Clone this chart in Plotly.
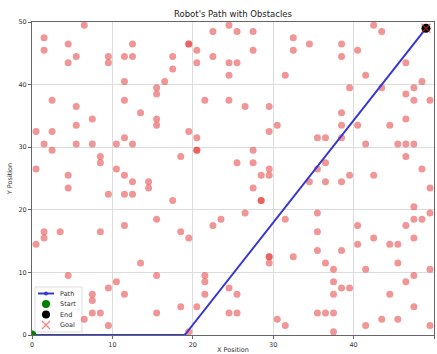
import plotly.graph_objects as go

# Obstacles (cell centres), listed row by row from top to bottom
obstacle_x = [
    6.5, 24.5, 42.5,
    22.5, 25.5, 27.5, 43.5,
    1.5, 32.5,
    4.5, 12.5, 19.5, 19.5, 34.5, 38.5,
    1.5, 20.5, 27.5, 32.5, 40.5,
    5.5, 9.5, 11.5, 12.5, 17.5, 22.5, 38.5,
    4.5, 9.5, 20.5, 24.5, 25.5, 46.5,
    17.5,
    24.5, 31.5, 41.5,
    11.5, 16.5, 48.5,
    15.5, 39.5, 43.5, 47.5,
    15.5, 46.5,
    2.5, 11.5, 21.5, 24.5, 47.5, 49.5,
    5.5, 26.5, 29.5,
    13.5, 38.5,
    7.5, 15.5, 46.5,
    5.5, 15.5, 30.5, 38.5, 40.5, 44.5,
    0.5, 2.5, 19.5, 29.5,
    11.5, 20.5, 35.5, 36.5, 38.5,
    1.5, 5.5, 7.5, 10.5, 12.5, 41.5, 45.5, 46.5, 47.5,
    2.5, 20.5, 20.5, 27.5,
    8.5, 18.5, 46.5,
    8.5, 25.5, 27.5, 36.5,
    0.5, 10.5, 29.5, 35.5, 48.5,
    4.5, 11.5, 28.5, 29.5, 39.5, 42.5,
    12.5, 14.5, 34.5, 36.5, 38.5,
    4.5, 14.5, 27.5, 49.5,
    9.5, 11.5, 12.5,
    17.5, 28.5, 28.5,
    47.5,
    26.5, 35.5, 49.5,
    15.5, 23.5, 31.5, 47.5, 48.5,
    11.5, 22.5, 40.5, 46.5,
    1.5, 3.5, 8.5, 18.5, 35.5,
    1.5, 19.5, 42.5, 47.5,
    0.5, 40.5, 44.5, 45.5,
    35.5, 38.5,
    29.5, 29.5, 32.5,
    13.5, 29.5, 36.5, 45.5,
    37.5, 41.5, 49.5,
    4.5, 15.5, 21.5, 47.5,
    10.5, 21.5, 37.5, 46.5,
    9.5, 24.5, 38.5, 39.5,
    7.5, 11.5, 21.5, 25.5, 37.5, 44.5,
    7.5,
    18.5, 20.5, 47.5,
    7.5, 8.5, 15.5, 24.5, 25.5, 35.5, 36.5, 37.5,
    6.5, 30.5, 43.5, 45.5,
    9.5, 31.5, 41.5, 49.5,
    19.5, 37.5,
]
obstacle_y = [
    49.5, 49.5, 49.5,
    48.5, 48.5, 48.5, 48.5,
    47.5, 47.5,
    46.5, 46.5, 46.5, 46.5, 46.5, 46.5,
    45.5, 45.5, 45.5, 45.5, 45.5,
    44.5, 44.5, 44.5, 44.5, 44.5, 44.5, 44.5,
    43.5, 43.5, 43.5, 43.5, 43.5, 43.5,
    42.5,
    41.5, 41.5, 41.5,
    40.5, 40.5, 40.5,
    39.5, 39.5, 39.5, 39.5,
    38.5, 38.5,
    37.5, 37.5, 37.5, 37.5, 37.5, 37.5,
    36.5, 36.5, 36.5,
    35.5, 35.5,
    34.5, 34.5, 34.5,
    33.5, 33.5, 33.5, 33.5, 33.5, 33.5,
    32.5, 32.5, 32.5, 32.5,
    31.5, 31.5, 31.5, 31.5, 31.5,
    30.5, 30.5, 30.5, 30.5, 30.5, 30.5, 30.5, 30.5, 30.5,
    29.5, 29.5, 29.5, 29.5,
    28.5, 28.5, 28.5,
    27.5, 27.5, 27.5, 27.5,
    26.5, 26.5, 26.5, 26.5, 26.5,
    25.5, 25.5, 25.5, 25.5, 25.5, 25.5,
    24.5, 24.5, 24.5, 24.5, 24.5,
    23.5, 23.5, 23.5, 23.5,
    22.5, 22.5, 22.5,
    21.5, 21.5, 21.5,
    20.5,
    19.5, 19.5, 19.5,
    18.5, 18.5, 18.5, 18.5, 18.5,
    17.5, 17.5, 17.5, 17.5,
    16.5, 16.5, 16.5, 16.5, 16.5,
    15.5, 15.5, 15.5, 15.5,
    14.5, 14.5, 14.5, 14.5,
    13.5, 13.5,
    12.5, 12.5, 12.5,
    11.5, 11.5, 11.5, 11.5,
    10.5, 10.5, 10.5,
    9.5, 9.5, 9.5, 9.5,
    8.5, 8.5, 8.5, 8.5,
    7.5, 7.5, 7.5, 7.5,
    6.5, 6.5, 6.5, 6.5, 6.5, 6.5,
    5.5,
    4.5, 4.5, 4.5,
    3.5, 3.5, 3.5, 3.5, 3.5, 3.5, 3.5, 3.5,
    2.5, 2.5, 2.5, 2.5,
    1.5, 1.5, 1.5, 1.5,
    0.5, 0.5,
]

# Path waypoints
path_x = [0, 19, 49]
path_y = [0, 0, 49]

start_pt = (0, 0)
end_pt = (49, 49)
goal_pt = (49, 49)

tick_vals = [0, 10, 20, 30, 40, 50]
legend_labels = ["Path", "Start", "End", "Goal"]

FONT = "DejaVu Sans"
OBST = "rgba(228,45,45,0.5)"
PATH = "rgb(55,55,210)"
GOAL = "rgba(228,45,45,0.6)"

fig = go.Figure()

fig.add_trace(go.Scatter(
    x=obstacle_x, y=obstacle_y, mode="markers",
    marker=dict(symbol="circle", size=7, color=OBST, line=dict(width=0)),
    showlegend=False, hoverinfo="skip",
))
fig.add_trace(go.Scatter(
    x=path_x, y=path_y, mode="lines+markers", name="Path",
    line=dict(color=PATH, width=2), marker=dict(size=3, color=PATH),
    showlegend=False,
))
fig.add_trace(go.Scatter(
    x=[start_pt[0]], y=[start_pt[1]], mode="markers", name="Start",
    marker=dict(size=9, color="green"), showlegend=False,
))
fig.add_trace(go.Scatter(
    x=[end_pt[0]], y=[end_pt[1]], mode="markers", name="End",
    marker=dict(size=9, color="black"), showlegend=False,
))
fig.add_trace(go.Scatter(
    x=[goal_pt[0]], y=[goal_pt[1]], mode="markers", name="Goal",
    marker=dict(size=9, symbol="x-thin", color=GOAL, line=dict(width=1.2, color=GOAL)),
    showlegend=False,
))

# Compact legend drawn on an overlay axis measured in pixels of the plot area
PW, PH = 402, 313
key_y = [41.5, 31, 20.5, 10]
fig.add_shape(type="rect", xref="x2", yref="y2", x0=3, x1=50, y0=3, y1=48,
              line=dict(color="#dddddd", width=1), fillcolor="rgba(255,255,255,0.9)", layer="below")
fig.add_trace(go.Scatter(x=[6, 22], y=[key_y[0], key_y[0]], xaxis="x2", yaxis="y2",
                         mode="lines", line=dict(color=PATH, width=2), showlegend=False, hoverinfo="skip"))
fig.add_trace(go.Scatter(x=[14], y=[key_y[0]], xaxis="x2", yaxis="y2", mode="markers",
                         marker=dict(size=4, color=PATH), showlegend=False, hoverinfo="skip"))
fig.add_trace(go.Scatter(x=[14], y=[key_y[1]], xaxis="x2", yaxis="y2", mode="markers",
                         marker=dict(size=8, color="green"), showlegend=False, hoverinfo="skip"))
fig.add_trace(go.Scatter(x=[14], y=[key_y[2]], xaxis="x2", yaxis="y2", mode="markers",
                         marker=dict(size=8, color="black"), showlegend=False, hoverinfo="skip"))
fig.add_trace(go.Scatter(x=[14], y=[key_y[3]], xaxis="x2", yaxis="y2", mode="markers",
                         marker=dict(size=8, symbol="x-thin", color=GOAL, line=dict(width=1.2, color=GOAL)),
                         showlegend=False, hoverinfo="skip"))
for lbl, ky in zip(legend_labels, key_y):
    fig.add_annotation(text=lbl, xref="x2", yref="y2", x=26, y=ky, xanchor="left", yanchor="middle",
                       showarrow=False, font=dict(family=FONT, size=6.5, color="#333"))

axis_common = dict(
    range=[0, 50], tickvals=tick_vals, showgrid=True, gridcolor="#dcdcdc", gridwidth=1,
    zeroline=False, showline=True, linecolor="#666", linewidth=1, mirror=True,
    ticks="outside", ticklen=3, tickcolor="#666", automargin=False,
    tickfont=dict(family=FONT, size=6.5, color="#333"),
)

fig.update_layout(
    width=437, height=354,
    margin=dict(l=32, r=3, t=22, b=19, autoexpand=False),
    paper_bgcolor="white", plot_bgcolor="white",
    font=dict(family=FONT, color="#222"),
    title=dict(text="Robot's Path with Obstacles", x=0.5, xref="paper",
               y=1 - 14 / 354, yref="container", yanchor="middle", automargin=False,
               font=dict(family=FONT, size=8.5, color="#222")),
    xaxis=dict(**axis_common, title=dict(text="X Position", standoff=0,
                                           font=dict(family=FONT, size=6.5, color="#333"))),
    yaxis=dict(**axis_common, title=dict(text="Y Position", standoff=5,
                                           font=dict(family=FONT, size=6.5, color="#333"))),
    xaxis2=dict(range=[0, PW], overlaying="x", visible=False, fixedrange=True),
    yaxis2=dict(range=[0, PH], overlaying="y", visible=False, fixedrange=True),
    showlegend=False,
)

fig.write_html(
    "out.html",
    config={"displayModeBar": False},
    post_script="document.body.style.margin='0';document.body.style.padding='0';document.body.style.overflow='hidden';",
)
